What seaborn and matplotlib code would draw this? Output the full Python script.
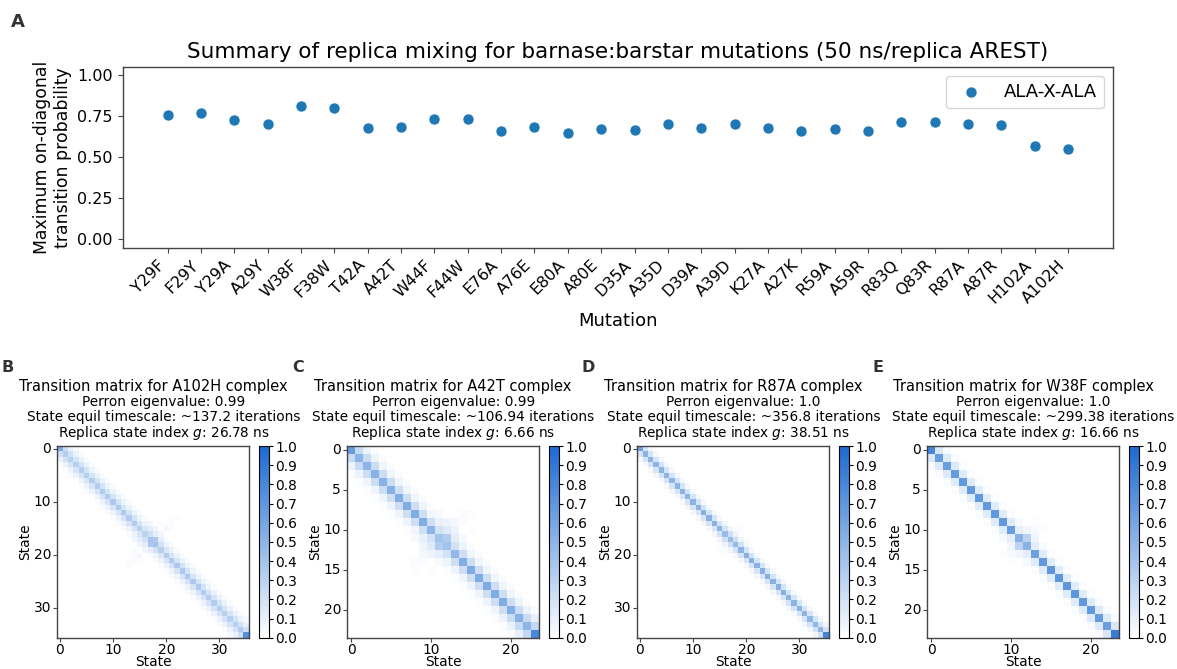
import numpy as np
import pandas as pd
import matplotlib
matplotlib.use("Agg")
import matplotlib.pyplot as plt
import seaborn as sns
from matplotlib.colors import LinearSegmentedColormap

# --- panel A: max on-diagonal transition probability per mutation ---
mutations = ["Y29F", "F29Y", "Y29A", "A29Y", "W38F", "F38W", "T42A", "A42T",
             "W44F", "F44W", "E76A", "A76E", "E80A", "A80E", "D35A", "A35D",
             "D39A", "A39D", "K27A", "A27K", "R59A", "A59R", "R83Q", "Q83R",
             "R87A", "A87R", "H102A", "A102H"]
max_diag = [0.754, 0.766, 0.727, 0.703, 0.812, 0.796, 0.675, 0.681,
            0.735, 0.733, 0.659, 0.685, 0.648, 0.671, 0.667, 0.701,
            0.677, 0.703, 0.679, 0.661, 0.673, 0.659, 0.715, 0.711,
            0.703, 0.697, 0.568, 0.550]

# --- panels B-E: transition matrices, read band by band ---
# A102H (36 states)
b_diag = [0.56, 0.34, 0.32, 0.32, 0.33, 0.33, 0.34, 0.34, 0.35, 0.35, 0.36, 0.36,
          0.36, 0.35, 0.34, 0.32, 0.30, 0.40, 0.40, 0.32, 0.34, 0.36, 0.37, 0.37,
          0.37, 0.36, 0.36, 0.35, 0.34, 0.34, 0.33, 0.32, 0.32, 0.31, 0.34, 0.74]
b_off1 = [0.22, 0.20, 0.19, 0.19, 0.19, 0.19, 0.19, 0.19, 0.19, 0.19, 0.19, 0.19,
          0.19, 0.19, 0.18, 0.17, 0.20, 0.36, 0.20, 0.17, 0.18, 0.19, 0.19, 0.19,
          0.19, 0.19, 0.19, 0.19, 0.19, 0.19, 0.19, 0.19, 0.19, 0.20, 0.22]
b_off2 = [0.09, 0.09, 0.08, 0.08, 0.08, 0.08, 0.08, 0.08, 0.08, 0.08, 0.08, 0.08,
          0.08, 0.08, 0.08, 0.12, 0.12, 0.12, 0.08, 0.08, 0.08, 0.08, 0.08, 0.08,
          0.08, 0.08, 0.08, 0.09, 0.09, 0.09, 0.09, 0.09, 0.09, 0.10]
b_off3 = [0.03, 0.03, 0.03, 0.03, 0.03, 0.03, 0.03, 0.03, 0.03, 0.03, 0.03, 0.03,
          0.03, 0.03, 0.06, 0.07, 0.06, 0.03, 0.03, 0.03, 0.03, 0.03, 0.03, 0.03,
          0.03, 0.03, 0.03, 0.03, 0.03, 0.03, 0.03, 0.03, 0.04]
b_extra = [(15, 20, 0.05), (14, 21, 0.03), (13, 22, 0.02), (14, 20, 0.03),
           (15, 21, 0.03), (13, 21, 0.02), (14, 19, 0.03)]

# A42T (24 states)
c_diag = [0.66, 0.50, 0.50, 0.52, 0.52, 0.53, 0.54, 0.55, 0.55, 0.55, 0.50, 0.40,
          0.40, 0.48, 0.54, 0.56, 0.56, 0.56, 0.55, 0.55, 0.54, 0.52, 0.50, 0.80]
c_off1 = [0.25, 0.24, 0.23, 0.23, 0.23, 0.22, 0.22, 0.22, 0.22, 0.22, 0.20, 0.34,
          0.20, 0.22, 0.22, 0.22, 0.22, 0.22, 0.22, 0.22, 0.23, 0.24, 0.26]
c_off2 = [0.08, 0.08, 0.07, 0.07, 0.07, 0.07, 0.07, 0.07, 0.06, 0.10, 0.14, 0.12,
          0.08, 0.07, 0.07, 0.07, 0.07, 0.07, 0.07, 0.08, 0.09, 0.10]
c_off3 = [0.02, 0.02, 0.02, 0.02, 0.02, 0.02, 0.02, 0.02, 0.04, 0.07, 0.08, 0.04,
          0.02, 0.02, 0.02, 0.02, 0.02, 0.02, 0.02, 0.02, 0.03]
c_extra = [(9, 13, 0.05), (8, 14, 0.03), (9, 14, 0.03), (10, 15, 0.02), (8, 15, 0.02)]

# R87A (36 states)
d_diag = [0.62, 0.50, 0.50, 0.50, 0.50, 0.50, 0.50, 0.51, 0.51, 0.51, 0.51, 0.51,
          0.52, 0.52, 0.52, 0.50, 0.46, 0.44, 0.46, 0.50, 0.52, 0.52, 0.53, 0.53,
          0.53, 0.52, 0.52, 0.52, 0.51, 0.51, 0.50, 0.50, 0.49, 0.48, 0.50, 0.82]
d_off1 = [0.19, 0.18, 0.18, 0.18, 0.18, 0.18, 0.18, 0.18, 0.18, 0.18, 0.18, 0.18,
          0.18, 0.18, 0.18, 0.19, 0.21, 0.22, 0.19, 0.18, 0.18, 0.18, 0.18, 0.18,
          0.18, 0.18, 0.18, 0.18, 0.18, 0.18, 0.18, 0.18, 0.19, 0.20, 0.20]
d_off2 = [0.05, 0.05, 0.05, 0.05, 0.05, 0.05, 0.05, 0.05, 0.05, 0.05, 0.05, 0.05,
          0.05, 0.05, 0.06, 0.07, 0.08, 0.07, 0.05, 0.05, 0.05, 0.05, 0.05, 0.05,
          0.05, 0.05, 0.05, 0.05, 0.05, 0.05, 0.05, 0.05, 0.06, 0.06]
d_extra = [(15, 18, 0.02), (16, 19, 0.03), (17, 20, 0.02), (15, 19, 0.02)]

# W38F (24 states)
e_diag = [0.82, 0.66, 0.66, 0.67, 0.68, 0.68, 0.69, 0.69, 0.69, 0.69, 0.66, 0.52,
          0.52, 0.64, 0.69, 0.70, 0.70, 0.70, 0.70, 0.69, 0.68, 0.67, 0.66, 0.88]
e_off1 = [0.16, 0.15, 0.15, 0.14, 0.14, 0.14, 0.14, 0.14, 0.14, 0.14, 0.12, 0.30,
          0.12, 0.14, 0.14, 0.14, 0.14, 0.14, 0.14, 0.14, 0.15, 0.15, 0.17]
e_off2 = [0.03, 0.03, 0.02, 0.02, 0.02, 0.02, 0.02, 0.02, 0.02, 0.04, 0.06, 0.06,
          0.04, 0.02, 0.02, 0.02, 0.02, 0.02, 0.02, 0.02, 0.03, 0.03]
e_extra = [(10, 13, 0.04), (9, 13, 0.02), (10, 14, 0.02)]


def build_matrix(diag, bands, extra):
    m = np.diag(diag)
    for k, band in enumerate(bands, start=1):
        m = m + np.diag(band, k) + np.diag(band, -k)
    for i, j, v in extra:
        m[i, j] = v
        m[j, i] = v
    return m


panels = [
    ("B", "A102H", "0.99", "137.2", "26.78", build_matrix(b_diag, [b_off1, b_off2, b_off3], b_extra)),
    ("C", "A42T", "0.99", "106.94", "6.66", build_matrix(c_diag, [c_off1, c_off2, c_off3], c_extra)),
    ("D", "R87A", "1.0", "356.8", "38.51", build_matrix(d_diag, [d_off1, d_off2], d_extra)),
    ("E", "W38F", "1.0", "299.38", "16.66", build_matrix(e_diag, [e_off1, e_off2], e_extra)),
]

W, H = 1177, 669
fig = plt.figure(figsize=(W / 100, H / 100), dpi=100)


def px_rect(left, top, right, bottom):
    return [left / W, 1 - bottom / H, (right - left) / W, (bottom - top) / H]


frame_col = "#444444"

# top panel
ax = fig.add_axes(px_rect(122.7, 66.7, 1113, 247.7))
df = pd.DataFrame({"Mutation": mutations, "prob": max_diag})
sns.scatterplot(data=df, x="Mutation", y="prob", ax=ax, s=64, color="#1f77b4",
                edgecolor="white", linewidth=0.5, label="ALA-X-ALA")
ax.set_ylim(-0.05, 1.05)
ax.set_xlim(-1.35, len(mutations) - 1 + 1.35)
ax.set_yticks([0, 0.25, 0.5, 0.75, 1.0])
ax.set_yticklabels(["0.00", "0.25", "0.50", "0.75", "1.00"])
ax.tick_params(labelsize=11.5, color=frame_col)
plt.setp(ax.get_xticklabels(), rotation=45, ha="right")
ax.set_xlabel("Mutation", fontsize=13)
ax.set_ylabel("Maximum on-diagonal\ntransition probability", fontsize=12.4)
ax.set_title("Summary of replica mixing for barnase:barstar mutations (50 ns/replica AREST)",
             fontsize=15.5)
ax.legend(loc="upper right", fontsize=13, markerscale=1.0)
for sp in ax.spines.values():
    sp.set_color(frame_col)
    sp.set_linewidth(1.0)

fig.text(18 / W, 1 - 22 / H, "A", fontsize=13, fontweight="bold", color="#333333",
         ha="center", va="center")

cmap = LinearSegmentedColormap.from_list("wb", ["#ffffff", "#1a6ad0"])

lefts = [57.3, 347.3, 637.3, 927.3]
for (letter, name, perron, tscale, gidx, mat), lx in zip(panels, lefts):
    n = mat.shape[0]
    hax = fig.add_axes(px_rect(lx, 446, lx + 191.4, 637.7))
    cax = fig.add_axes(px_rect(lx + 202, 446, lx + 211.4, 637.7))
    sns.heatmap(mat, ax=hax, cbar_ax=cax, cmap=cmap, vmin=0, vmax=1,
                cbar_kws={"ticks": np.arange(0, 1.01, 0.1)})
    step = 10 if n > 30 else 5
    yt = np.arange(0, n, step)
    xt = np.arange(0, n, 10)
    hax.set_yticks(yt + 0.5)
    hax.set_yticklabels([str(v) for v in yt], rotation=0)
    hax.set_xticks(xt + 0.5)
    hax.set_xticklabels([str(v) for v in xt], rotation=0)
    hax.tick_params(labelsize=9.9, length=3, pad=1.5, color=frame_col)
    hax.tick_params(axis="x", pad=0.8)
    hax.set_xlabel("State", fontsize=9.9, labelpad=-1.5)
    hax.set_ylabel("State", fontsize=9.9, labelpad=1)
    for sp in hax.spines.values():
        sp.set_visible(True)
        sp.set_color(frame_col)
        sp.set_linewidth(1.0)
    cbar = hax.collections[0].colorbar
    cbar.ax.tick_params(labelsize=9.9, length=3, pad=1.5)
    cbar.set_ticklabels(["%.1f" % v for v in np.arange(0, 1.01, 0.1)])
    cbar.outline.set_linewidth(0.8)
    cbar.outline.set_edgecolor("black")

    cx = lx + 95.7
    fig.text(cx / W, 1 - 386 / H, "Transition matrix for %s complex" % name,
             fontsize=10.5, ha="center", va="center")
    sub_lines = ["Perron eigenvalue: %s" % perron,
                 "State equil timescale: ~%s iterations" % tscale,
                 "Replica state index $g$: %s ns" % gidx]
    for yy, line in zip([400.5, 415, 430], sub_lines):
        fig.text((cx + 10.5) / W, 1 - yy / H, line, fontsize=9.8,
                 ha="center", va="center_baseline")
    fig.text((lx - 49.5) / W, 1 - 367 / H, letter, fontsize=11.5, fontweight="bold",
             color="#333333", ha="center", va="center")

fig.savefig("out.png", dpi=100)
